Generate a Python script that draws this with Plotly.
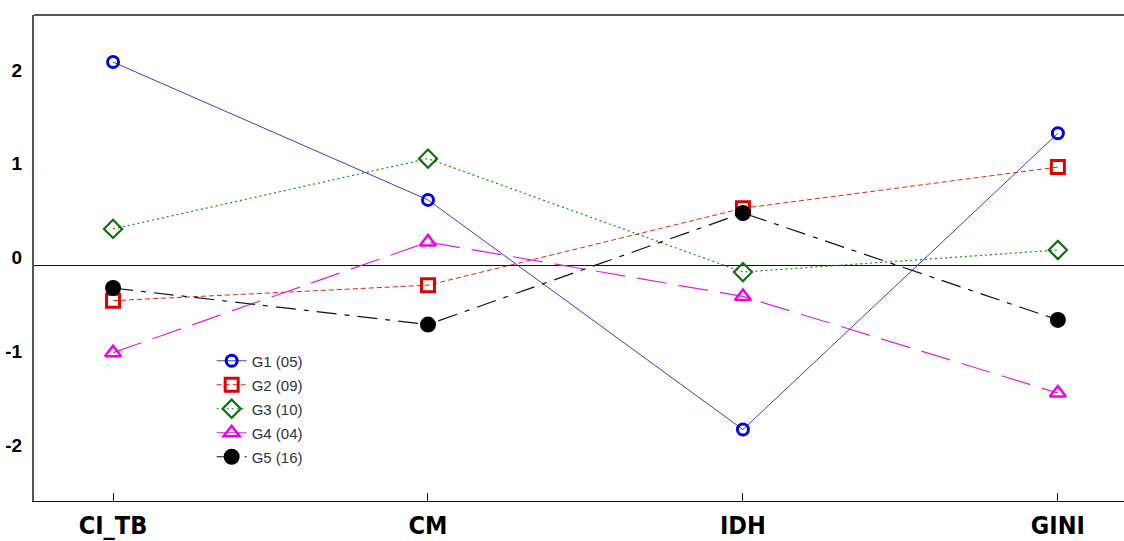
import plotly.graph_objects as go

categories = ["CI_TB", "CM", "IDH", "GINI"]
series_names = ["G1 (05)", "G2 (09)", "G3 (10)", "G4 (04)", "G5 (16)"]
g1 = [2.17, 0.70, -1.75, 1.41]
g2 = [-0.375, -0.21, 0.61, 1.05]
g3 = [0.39, 1.14, -0.07, 0.165]
g4 = [-0.93, 0.25, -0.33, -1.36]
g5 = [-0.24, -0.63, 0.56, -0.58]
y_ticks = [-2, -1, 0, 1, 2]

styles = [
    dict(line=dict(color="#3b3bd0", width=1, dash="solid"),
         marker=dict(symbol="circle-open", size=11, color="#0000ee", line=dict(width=3, color="#0000ee"))),
    dict(line=dict(color="#e02020", width=1, dash="5px,3px"),
         marker=dict(symbol="square-open", size=13, color="#e00000", line=dict(width=3, color="#e00000"))),
    dict(line=dict(color="#1a8a1a", width=1.2, dash="2px,3px"),
         marker=dict(symbol="diamond-open", size=14, color="#107010", line=dict(width=2.2, color="#107010"))),
    dict(line=dict(color="#e020e0", width=1.2, dash="30px,12px"),
         marker=dict(symbol="triangle-up-open", size=14, color="#ee00ee", line=dict(width=2.5, color="#ee00ee"))),
    dict(line=dict(color="#111111", width=1.2, dash="20px,8px,5px,8px"),
         marker=dict(symbol="circle", size=16, color="#000000", line=dict(width=0))),
]

fig = go.Figure()
for i, (name, vals, st) in enumerate(zip(series_names, [g1, g2, g3, g4, g5], styles)):
    fig.add_trace(go.Scatter(x=categories, y=vals, name=name, mode="lines+markers",
                             legendgroup=f"g{i}",
                             line=st["line"], marker=st["marker"]))

fig.update_layout(
    width=1124, height=541,
    margin=dict(l=34, r=0, t=15, b=40),
    paper_bgcolor="white", plot_bgcolor="white",
    showlegend=True,
    legend=dict(x=0.163, y=0.322, xanchor="left", yanchor="top",
                bgcolor="rgba(255,255,255,0)",
                font=dict(family="Liberation Sans, Arial", size=15, color="#333333"),
                tracegroupgap=1.5),
    shapes=[dict(type="line", xref="paper", yref="paper", x0=0, x1=1, y0=1, y1=1,
                 line=dict(color="#555555", width=2))],
)

fig.update_xaxes(
    type="category", range=[-0.251, 3.21],
    showgrid=False, zeroline=False,
    showline=True, linecolor="#111111", linewidth=1,
    ticks="inside", ticklen=8, tickcolor="#111111", tickwidth=1,
    ticklabelstandoff=2,
    tickfont=dict(family="Liberation Sans Narrow, DejaVu Sans Condensed, Arial", size=25,
                  color="#000000", weight="bold"),
)
fig.update_yaxes(
    range=[-2.512, 2.672],
    tickvals=y_ticks, ticktext=[str(v) for v in y_ticks],
    showgrid=False,
    zeroline=True, zerolinecolor="#111111", zerolinewidth=1,
    showline=True, linecolor="#555555", linewidth=2,
    ticks="", ticklabelshift=-8, ticklabelstandoff=6,
    tickfont=dict(family="Liberation Sans, Arial", size=19, color="#000000", weight="bold"),
)

fig.write_html("out.html",
               config={"displayModeBar": False},
               post_script="document.body.style.margin='0';document.body.style.overflow='hidden';")
